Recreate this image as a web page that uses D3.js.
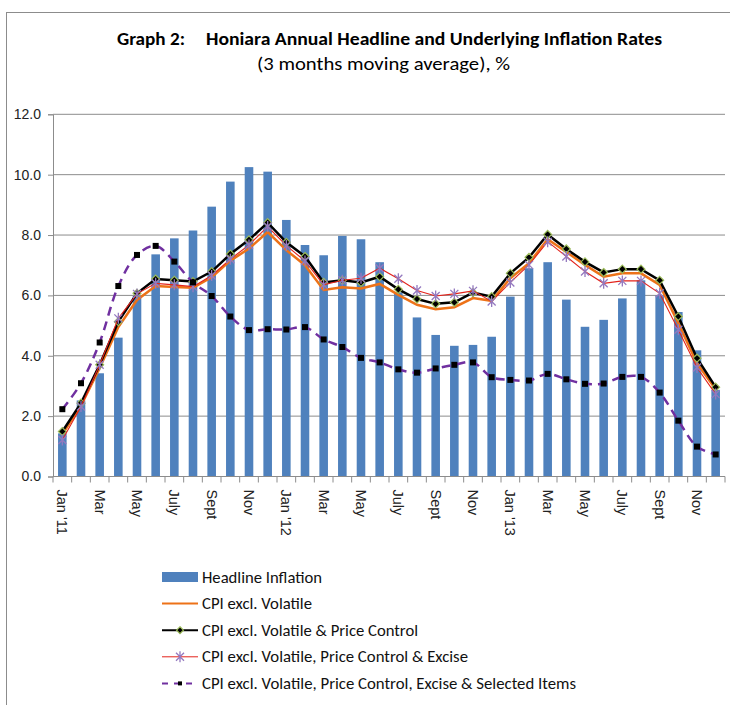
<!DOCTYPE html>
<html>
<head>
<meta charset="utf-8">
<script src="https://cdn.jsdelivr.net/npm/d3@7"></script>
<style>
  body { margin: 0; background: #fff; }
  svg { display: block; }
</style>
</head>
<body>
<div id="chart"></div>
<script>
// Monthly data, Jan 2011 - Dec 2013
const months = ["Jan '11","Feb","Mar","Apr","May","Jun","July","Aug","Sept","Oct","Nov","Dec",
  "Jan '12","Feb","Mar","Apr","May","Jun","July","Aug","Sept","Oct","Nov","Dec",
  "Jan '13","Feb","Mar","Apr","May","Jun","July","Aug","Sept","Oct","Nov","Dec"];

const headline = [1.43,2.52,3.42,4.6,5.98,7.36,7.89,8.15,8.94,9.77,10.25,10.1,
  8.5,7.67,7.33,7.97,7.86,7.1,6.1,5.27,4.69,4.33,4.36,4.63,
  5.96,6.9,7.1,5.86,4.96,5.19,5.9,6.5,6.0,5.45,4.18,2.87];

const exclVolatile = [1.4,2.35,3.6,4.95,5.85,6.31,6.28,6.25,6.6,7.15,7.55,8.1,
  7.5,7.0,6.18,6.27,6.23,6.38,6.02,5.69,5.54,5.61,5.91,5.82,
  6.57,7.07,7.86,7.44,7.01,6.62,6.73,6.73,6.35,5.08,3.75,2.89];

const exclPriceControl = [1.49,2.43,3.7,5.13,6.07,6.54,6.5,6.46,6.79,7.37,7.84,8.41,
  7.76,7.29,6.43,6.5,6.43,6.62,6.2,5.88,5.72,5.77,6.09,5.96,
  6.73,7.26,8.02,7.54,7.11,6.76,6.87,6.87,6.5,5.3,3.92,2.96];

const exclExcise = [1.21,2.32,3.7,5.24,6.05,6.4,6.35,6.29,6.66,7.2,7.67,8.28,
  7.65,7.14,6.35,6.5,6.57,6.9,6.55,6.16,5.98,6.05,6.15,5.8,
  6.43,7.01,7.78,7.29,6.79,6.4,6.48,6.48,6.07,4.86,3.61,2.73];

const exclSelected = [2.23,3.09,4.44,6.31,7.34,7.64,7.12,6.43,5.98,5.3,4.85,4.88,
  4.87,4.95,4.54,4.29,3.93,3.78,3.55,3.44,3.58,3.7,3.78,3.29,
  3.2,3.18,3.4,3.22,3.07,3.08,3.3,3.3,2.78,1.85,0.99,0.73];

const yTicks = [0, 2, 4, 6, 8, 10, 12];

const legendLabels = [
  "Headline Inflation",
  "CPI excl. Volatile",
  "CPI excl. Volatile & Price Control",
  "CPI excl. Volatile, Price Control & Excise",
  "CPI excl. Volatile, Price Control, Excise & Selected Items"
];

const W = 730, H = 705;
const plot = { left: 53, right: 725, top: 114.3, bottom: 476.5 };
const calibri = "Carlito, 'Noto Sans', sans-serif";
const arial = "'Liberation Sans', Arial, sans-serif";

const svg = d3.select("#chart").append("svg")
  .attr("width", W).attr("height", H);

// outer chart frame
svg.append("rect")
  .attr("x", 6.5).attr("y", 12.5)
  .attr("width", W + 20).attr("height", H + 20)
  .attr("fill", "none").attr("stroke", "#8c8c8c").attr("stroke-width", 1);

// Title
svg.append("text")
  .attr("x", 117).attr("y", 45)
  .attr("font-family", calibri).attr("font-weight", "bold").attr("font-size", 18.5)
  .attr("textLength", 68).attr("lengthAdjust", "spacingAndGlyphs")
  .text("Graph 2:");
svg.append("text")
  .attr("x", 206).attr("y", 45)
  .attr("font-family", calibri).attr("font-weight", "bold").attr("font-size", 18.5)
  .attr("textLength", 456).attr("lengthAdjust", "spacingAndGlyphs")
  .text("Honiara Annual Headline and Underlying Inflation Rates");
svg.append("text")
  .attr("x", 257).attr("y", 70)
  .attr("font-family", calibri).attr("font-size", 18)
  .attr("textLength", 253).attr("lengthAdjust", "spacingAndGlyphs")
  .text("(3 months moving average), %");

// Scales
const x = d3.scaleBand()
  .domain(d3.range(months.length))
  .range([plot.left, plot.right])
  .paddingInner(0.54).paddingOuter(0.27);
const step = x.step();
const cx = (i) => x(i) + x.bandwidth() / 2;

const y = d3.scaleLinear().domain([0, 12]).range([plot.bottom, plot.top]);

// Gridlines
svg.append("g")
  .selectAll("line")
  .data(yTicks)
  .join("line")
  .attr("x1", plot.left).attr("x2", plot.right)
  .attr("y1", (d) => y(d)).attr("y2", (d) => y(d))
  .attr("stroke", "#8c8c8c").attr("stroke-width", 1);

// Y axis
const yAxis = svg.append("g")
  .attr("transform", `translate(${plot.left},0)`)
  .call(d3.axisLeft(y).tickValues(yTicks).tickFormat(d3.format(".1f")).tickSize(5).tickPadding(7));
yAxis.select(".domain").attr("stroke", "#8c8c8c");
yAxis.selectAll(".tick line").attr("stroke", "#8c8c8c");
yAxis.selectAll("text")
  .attr("font-family", arial)
  .attr("font-size", 14).attr("fill", "#222");

// Bars
svg.append("g")
  .selectAll("rect")
  .data(headline)
  .join("rect")
  .attr("x", (d, i) => x(i))
  .attr("width", x.bandwidth())
  .attr("y", (d) => y(d))
  .attr("height", (d) => y(0) - y(d))
  .attr("fill", "#4f81bd");

// X axis line and boundary ticks
const xAxis = svg.append("g").attr("transform", `translate(0,${plot.bottom})`);
xAxis.append("line")
  .attr("x1", plot.left).attr("x2", plot.right)
  .attr("stroke", "#8c8c8c");
xAxis.selectAll(".bt")
  .data(d3.range(months.length + 1))
  .join("line")
  .attr("class", "bt")
  .attr("x1", (i) => plot.left + i * step).attr("x2", (i) => plot.left + i * step)
  .attr("y1", 0).attr("y2", 6)
  .attr("stroke", "#8c8c8c");
xAxis.selectAll(".lbl")
  .data(months.map((m, i) => ({ m, i })).filter((d) => d.i % 2 === 0))
  .join("text")
  .attr("class", "lbl")
  .attr("transform", (d) => `translate(${cx(d.i)},${13}) rotate(90)`)
  .attr("dominant-baseline", "central")
  .attr("font-family", arial)
  .attr("font-size", 14.5).attr("fill", "#222")
  .text((d) => d.m);

// Lines
const line = d3.line().x((d, i) => cx(i)).y((d) => y(d));
const smooth = d3.line().x((d, i) => cx(i)).y((d) => y(d)).curve(d3.curveCatmullRom.alpha(0.5));

const gLines = svg.append("g");

gLines.append("path").datum(exclVolatile)
  .attr("d", line).attr("fill", "none")
  .attr("stroke", "#ed7218").attr("stroke-width", 2.5);

gLines.append("path").datum(exclPriceControl)
  .attr("d", line).attr("fill", "none")
  .attr("stroke", "#000").attr("stroke-width", 2.5);
gLines.append("g").selectAll("path")
  .data(exclPriceControl)
  .join("path")
  .attr("transform", (d, i) => `translate(${cx(i)},${y(d)})`)
  .attr("d", d3.symbol(d3.symbolDiamond2, 40))
  .attr("fill", "#000").attr("stroke", "#9bbb59").attr("stroke-width", 1.2);

gLines.append("path").datum(exclExcise)
  .attr("d", line).attr("fill", "none")
  .attr("stroke", "#e3231b").attr("stroke-width", 1.1);
const star = "M-4,-4L4,4M-4,4L4,-4M0,-5.5L0,5.5";
gLines.append("g").selectAll("path")
  .data(exclExcise)
  .join("path")
  .attr("transform", (d, i) => `translate(${cx(i)},${y(d)})`)
  .attr("d", star)
  .attr("fill", "none").attr("stroke", "#9479bf").attr("stroke-width", 1.3);

gLines.append("path").datum(exclSelected)
  .attr("d", smooth).attr("fill", "none")
  .attr("stroke", "#7030a0").attr("stroke-width", 2.5)
  .attr("stroke-dasharray", "9,6");
gLines.append("g").selectAll("rect")
  .data(exclSelected)
  .join("rect")
  .attr("x", (d, i) => cx(i) - 3).attr("y", (d) => y(d) - 3)
  .attr("width", 6).attr("height", 6)
  .attr("fill", "#000");

// Legend
const legend = svg.append("g").attr("transform", "translate(162,577)");
const rowH = 26.6;
const textWidths = [120, 110, 216, 266, 374];
legendLabels.forEach((lab, i) => {
  const row = legend.append("g").attr("transform", `translate(0,${i * rowH})`);
  if (i === 0) {
    row.append("rect").attr("x", 0).attr("y", -5).attr("width", 36).attr("height", 10).attr("fill", "#4f81bd");
  } else if (i === 1) {
    row.append("line").attr("x1", 0).attr("x2", 36).attr("stroke", "#ed7218").attr("stroke-width", 2);
  } else if (i === 2) {
    row.append("line").attr("x1", 0).attr("x2", 36).attr("stroke", "#000").attr("stroke-width", 2);
    row.append("path").attr("transform", "translate(18,0)")
      .attr("d", d3.symbol(d3.symbolDiamond2, 30))
      .attr("fill", "#000").attr("stroke", "#9bbb59").attr("stroke-width", 1.2);
  } else if (i === 3) {
    row.append("line").attr("x1", 0).attr("x2", 36).attr("stroke", "#e3231b").attr("stroke-width", 1);
    row.append("path").attr("transform", "translate(18,0)").attr("d", star)
      .attr("fill", "none").attr("stroke", "#9479bf").attr("stroke-width", 1.3);
  } else {
    row.append("line").attr("x1", 0).attr("x2", 36).attr("stroke", "#7030a0")
      .attr("stroke-width", 2).attr("stroke-dasharray", "6,6");
    row.append("rect").attr("x", 16).attr("y", -2).attr("width", 4).attr("height", 4).attr("fill", "#000");
  }
  row.append("text")
    .attr("x", 40).attr("y", 5.5)
    .attr("font-family", calibri).attr("font-size", 16).attr("fill", "#111")
    .attr("textLength", textWidths[i]).attr("lengthAdjust", "spacingAndGlyphs")
    .text(lab);
});
</script>
</body>
</html>
